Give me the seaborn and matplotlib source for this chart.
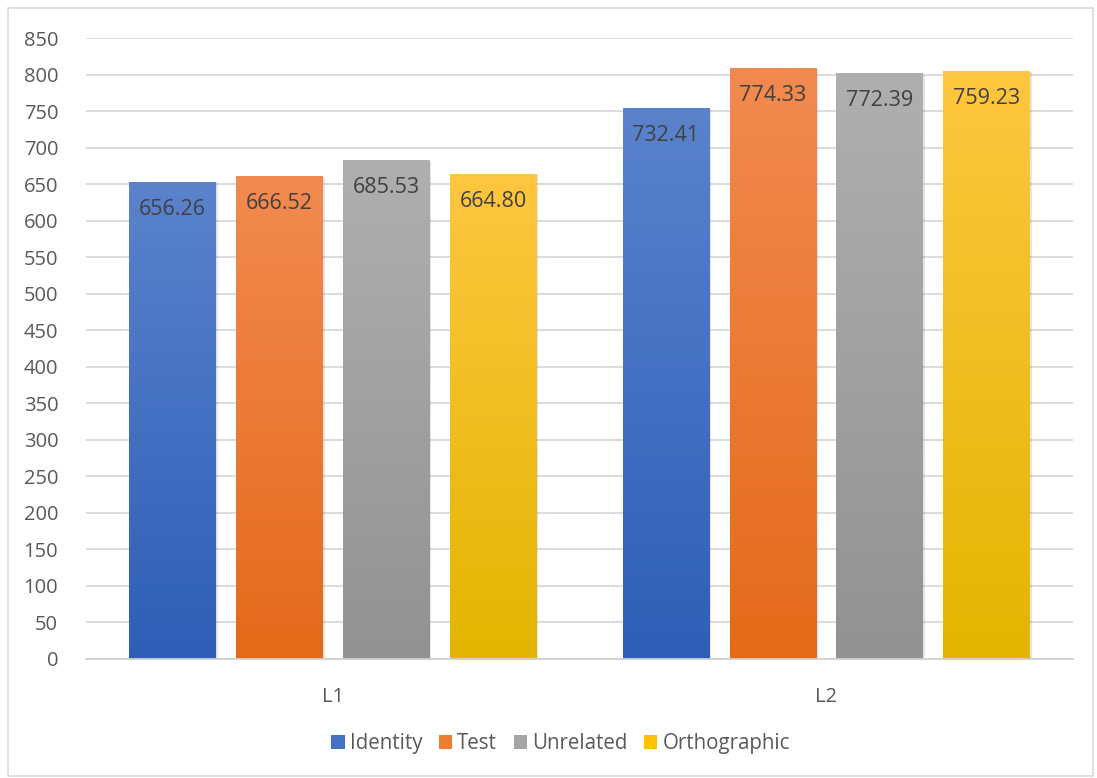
import numpy as np
import pandas as pd
import matplotlib
matplotlib.use("Agg")
import matplotlib.pyplot as plt
import seaborn as sns
from matplotlib.colors import LinearSegmentedColormap
from matplotlib.patches import Rectangle, Patch

# ---- data ----
groups = ["L1", "L2"]
conditions = ["Identity", "Test", "Unrelated", "Orthographic"]
identity = [653, 755]
test = [661, 809]
unrelated = [683, 802]
orthographic = [664, 805]
identity_labels = ["656.26", "732.41"]
test_labels = ["666.52", "774.33"]
unrelated_labels = ["685.53", "772.39"]
orthographic_labels = ["664.80", "759.23"]
yticks = list(range(0, 851, 50))

series = [identity, test, unrelated, orthographic]
labels = [identity_labels, test_labels, unrelated_labels, orthographic_labels]
rows = []
for cond, vals in zip(conditions, series):
    for g, v in zip(groups, vals):
        rows.append({"group": g, "condition": cond, "value": v})
df = pd.DataFrame(rows)

top_colors = ["#5B83CC", "#F28A50", "#AFAFAF", "#FFC63F"]
bot_colors = ["#2E5EB8", "#E46A18", "#929292", "#E3B500"]
mid_colors = ["#4472C4", "#ED7D31", "#A5A5A5", "#FFC000"]

sns.set_theme(style="white")
plt.rcParams["font.family"] = ["Open Sans", "DejaVu Sans"]

fig = plt.figure(figsize=(10.97, 7.78), dpi=100)
ax = fig.add_axes([0.0784, 0.153, 0.8997, 0.798])

sns.barplot(data=df, x="group", y="value", hue="condition", order=groups,
            hue_order=conditions, palette=mid_colors, width=0.866, gap=0.19,
            legend=False, ax=ax, zorder=3, linewidth=0)

for i, cont in enumerate(ax.containers):
    cmap = LinearSegmentedColormap.from_list("g%d" % i, [bot_colors[i], top_colors[i]])
    grad = np.linspace(0, 1, 256).reshape(-1, 1)
    for j, bar in enumerate(cont):
        x0, w, h = bar.get_x(), bar.get_width(), bar.get_height()
        # soft shadow
        ax.add_patch(Rectangle((x0 + 0.004, -3), w, h + 1, facecolor="#000000",
                               alpha=0.10, linewidth=0, zorder=2.5))
        im = ax.imshow(grad, extent=[x0, x0 + w, 0, h], origin="lower",
                       aspect="auto", cmap=cmap, zorder=3.5)
        im.set_clip_path(bar)
        ax.annotate(labels[i][j], (x0 + w / 2, h), xytext=(0, -20),
                    textcoords="offset points", ha="center", va="center",
                    fontsize=15.5, color="#404040", zorder=5)

ax.set_xlim(-0.5, 1.5)
ax.set_ylim(0, 850)
ax.set_yticks(yticks)
ax.yaxis.grid(True, color="#D9D9D9", linewidth=1.3, zorder=0)
ax.set_axisbelow(True)
for s in ["top", "right", "left"]:
    ax.spines[s].set_visible(False)
ax.spines["bottom"].set_color("#D0D0D0")
ax.spines["bottom"].set_linewidth(1.3)
ax.spines["bottom"].set_zorder(4)
ax.tick_params(axis="y", labelsize=14.5, colors="#595959", length=0, pad=20)
ax.tick_params(axis="x", labelsize=14.5, colors="#595959", length=0, pad=20)
for t in ax.get_yticklabels():
    t.set_horizontalalignment("right")
ax.set_xlabel("")
ax.set_ylabel("")

handles = [Patch(facecolor=c, edgecolor="none") for c in mid_colors]
fig.legend(handles, conditions, loc="center", bbox_to_anchor=(0.511, 0.044),
           ncol=4, frameon=False, fontsize=14.8, handlelength=0.65,
           handleheight=0.65, handletextpad=0.25, columnspacing=0.8,
           labelcolor="#595959")

fig.patches.append(Rectangle((8 / 1097, 2 / 778), 1085 / 1097, 768 / 778,
                             transform=fig.transFigure, fill=False,
                             edgecolor="#D9D9D9", linewidth=1.2))

fig.savefig("out.png", dpi=100, facecolor="white")
